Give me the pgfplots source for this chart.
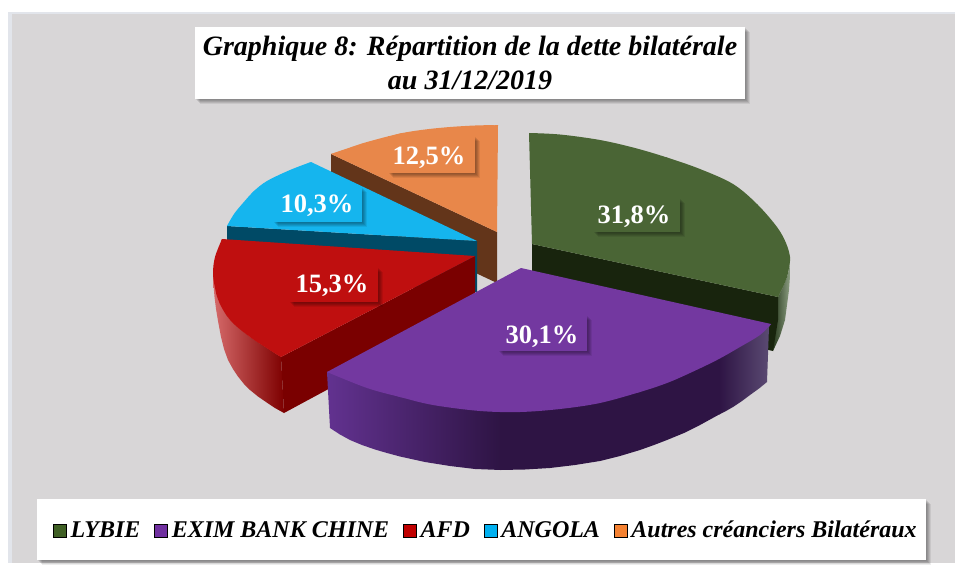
\documentclass[border=0pt]{standalone}
\usepackage{fontspec}
\setmainfont{Liberation Serif}
\usepackage{pgfplots}
\pgfplotsset{compat=1.18}

\definecolor{bgedge}{HTML}{E2E5EB}
\definecolor{bg}{HTML}{D8D6D7}
\definecolor{cgreen}{HTML}{4A6535}
\definecolor{cpurple}{HTML}{7338A0}
\definecolor{cred}{HTML}{BF0F0F}
\definecolor{cblue}{HTML}{15B5EE}
\definecolor{corange}{HTML}{E8874A}
\definecolor{sgreen}{HTML}{18240D}
\definecolor{sred}{HTML}{7A0000}
\definecolor{sblue}{HTML}{004A66}
\definecolor{sorange}{HTML}{63351A}
\definecolor{wgreenA}{HTML}{1E3014}
\definecolor{wgreenB}{HTML}{8C9E82}
\definecolor{wredA}{HTML}{D66A6A}
\definecolor{wredB}{HTML}{AA1010}
\definecolor{wredC}{HTML}{7D0000}
\definecolor{wpurA}{HTML}{623290}
\definecolor{wpurB}{HTML}{2E1444}
\definecolor{wpurD}{HTML}{5C4C74}
\definecolor{lgreen}{HTML}{3F5F24}
\definecolor{lpurple}{HTML}{7030A0}
\definecolor{lred}{HTML}{C00000}
\definecolor{lblue}{HTML}{00B0F0}
\definecolor{lorange}{HTML}{F58232}

% box with a soft shadow, x1 y1 x2 y2 colour
\newcommand{\shbox}[5]{%
  \fill[black,opacity=.07,xshift=1pt,yshift=-1pt] (axis cs:#1,#2) rectangle (axis cs:#3,#4);
  \fill[black,opacity=.09,xshift=2pt,yshift=-2pt] (axis cs:#1,#2) rectangle (axis cs:#3,#4);
  \fill[black,opacity=.09,xshift=3pt,yshift=-3pt] (axis cs:#1,#2) rectangle (axis cs:#3,#4);
  \fill[black,opacity=.09,xshift=4pt,yshift=-4pt] (axis cs:#1,#2) rectangle (axis cs:#3,#4);
  \fill[black,opacity=.07,xshift=5pt,yshift=-5pt] (axis cs:#1,#2) rectangle (axis cs:#3,#4);
  \fill[#5] (axis cs:#1,#2) rectangle (axis cs:#3,#4);
}
\newcommand{\pct}{\fontsize{26.5}{30}\selectfont\bfseries}

\begin{document}
\begin{tikzpicture}
\begin{axis}[
  scale only axis,
  width=955pt, height=563pt,
  xmin=0, xmax=955, ymin=0, ymax=563,
  y dir=reverse,
  axis lines=none,
  clip=false,
  face/.style={draw=none,fill=#1,mark=none,forget plot,sharp plot},
  arc/.style={draw=none,fill=#1,mark=none,forget plot,smooth,tension=0.55},
  wall/.style={draw=none,mark=none,forget plot,sharp plot},
  legend columns=5,
  legend style={at={(axis cs:50,530)},anchor=west,draw=none,fill=none,
    font=\fontsize{24}{28}\selectfont\bfseries\itshape,
    /tikz/every even column/.append style={column sep=12pt},
    /tikz/every odd column/.append style={column sep=2pt}},
  legend cell align=left,
  legend image code/.code={\fill[#1] (0pt,-7pt) rectangle (13pt,6pt);},
]
\fill[white] (axis cs:0,0) rectangle (axis cs:955,563);
\fill[bgedge] (axis cs:8,12) rectangle (axis cs:955,563);
\fill[bg] (axis cs:12,14) rectangle (axis cs:955,563);

\shbox{195}{27}{745}{99}{white}
\node[align=center,font=\fontsize{28}{34}\selectfont\bfseries\itshape] at (axis cs:470,63)
  {Graphique 8: Répartition de la dette bilatérale\\au 31/12/2019};

\shbox{37}{499}{926}{560}{white}

% Autres
\addplot[face=sorange] coordinates {(331,154) (497,232) (497,283) (331,205)};
\addplot[face=corange] coordinates {(497,232) (498,125) (400,133.5) (331,154)};
\addplot[arc=corange] coordinates {(498,125) (475,125.5) (450,127) (425,129.5) (400,133.5) (367,142) (350,147.5) (331,154)};

% Angola
\addplot[face=sblue] coordinates {(227,226) (477,241) (477,292) (227,277)};
\addplot[face=cblue] coordinates {(477,241) (311,162) (254,191) (227,226)};
\addplot[arc=cblue] coordinates {(311,162) (290,170) (267,181) (254,191) (243,203) (234,214) (227,226)};

% Lybie
\addplot[wall,left color=wgreenA,right color=wgreenB]
  coordinates {(771,340) (778,297) (783,287) (787,277) (789,270) (790,262) (790,276) (789,290) (787,305) (785,320) (780,336) (773,351)};
\addplot[face=sgreen] coordinates {(532,244) (778,297) (778,320) (773,351) (532,299)};
\addplot[face=cgreen] coordinates {(532,244) (529,133) (667,157.5) (790,257) (778,297)};
\addplot[arc=cgreen] coordinates {(529,133) (560,134.5) (600,140) (635,148) (667,157.5) (700,169) (733,184) (757,204) (777,227) (786,243) (790,257) (789,268) (787,277) (783,287) (778,297)};

% AFD
\addplot[face=sred] coordinates {(281,357) (475,256) (475,310) (284,413)};
\addplot[wall,left color=wredA,middle color=wredB,right color=wredC]
  coordinates {(281,357) (250,337) (230,320) (218,300) (213,273) (213.5,285) (214.5,297) (216,309) (218,321) (221,337) (224,349) (228,360) (233,369) (238,376.5) (244,384) (250,390) (258,396.5) (266,402) (275,408) (284,413)};
\addplot[face=cred] coordinates {(475,256) (222,239) (213,273) (250,337) (281,357)};
\addplot[arc=cred] coordinates {(222,239) (215,257) (213,273) (215,288) (219,302) (230,320) (250,337) (281,357)};

% Exim Bank
\addplot[wall,left color=wpurA,right color=wpurB]
  coordinates {(327,372) (330,428) (340,434.5) (350,440) (362,445) (375,449.5) (387,453) (400,456.5) (425,462) (450,466) (475,469) (501,470) (501,380)};
\addplot[face=wpurB]
  coordinates {(500,380) (500,470) (525,469.5) (550,468) (575,465) (600,461) (620,456) (640,450) (654,445) (667,440) (684,433) (700,425) (720,414) (720,340)};
\addplot[wall,left color=wpurB,right color=wpurD]
  coordinates {(719,340) (719,414.5) (726,411) (733,407) (742,401) (750,395) (759,388.5) (767,382) (769,327) (771,324)};
\addplot[face=cpurple] coordinates {(521,268) (771,324) (640,392) (520,412) (400,397) (327,372)};
\addplot[arc=cpurple] coordinates {(771,324) (760,335) (740,347) (717,360) (690,373) (667,383) (640,392) (600,403) (560,409) (520,412) (480,411) (433,405) (400,397) (367,388) (327,372)};

% labels
\shbox{593}{198}{680}{232}{cgreen}
\node[text=white,font=\pct] at (axis cs:634,217) {31,8\%};
\shbox{498}{315}{587}{351}{cpurple}
\node[text=white,font=\pct] at (axis cs:542,337) {30,1\%};
\shbox{289}{267}{378}{302}{cred}
\node[text=white,font=\pct] at (axis cs:332,286) {15,3\%};
\shbox{273}{187}{362}{222}{cblue}
\node[text=white,font=\pct] at (axis cs:317,206) {10,3\%};
\shbox{388}{136}{475}{173}{corange}
\node[text=white,font=\pct] at (axis cs:429,158) {12,5\%};

\addlegendimage{fill=lgreen}
\addlegendentry{LYBIE}
\addlegendimage{fill=lpurple}
\addlegendentry{EXIM BANK CHINE}
\addlegendimage{fill=lred}
\addlegendentry{AFD}
\addlegendimage{fill=lblue}
\addlegendentry{ANGOLA}
\addlegendimage{fill=lorange}
\addlegendentry{Autres créanciers Bilatéraux}
\end{axis}
\end{tikzpicture}
\end{document}
